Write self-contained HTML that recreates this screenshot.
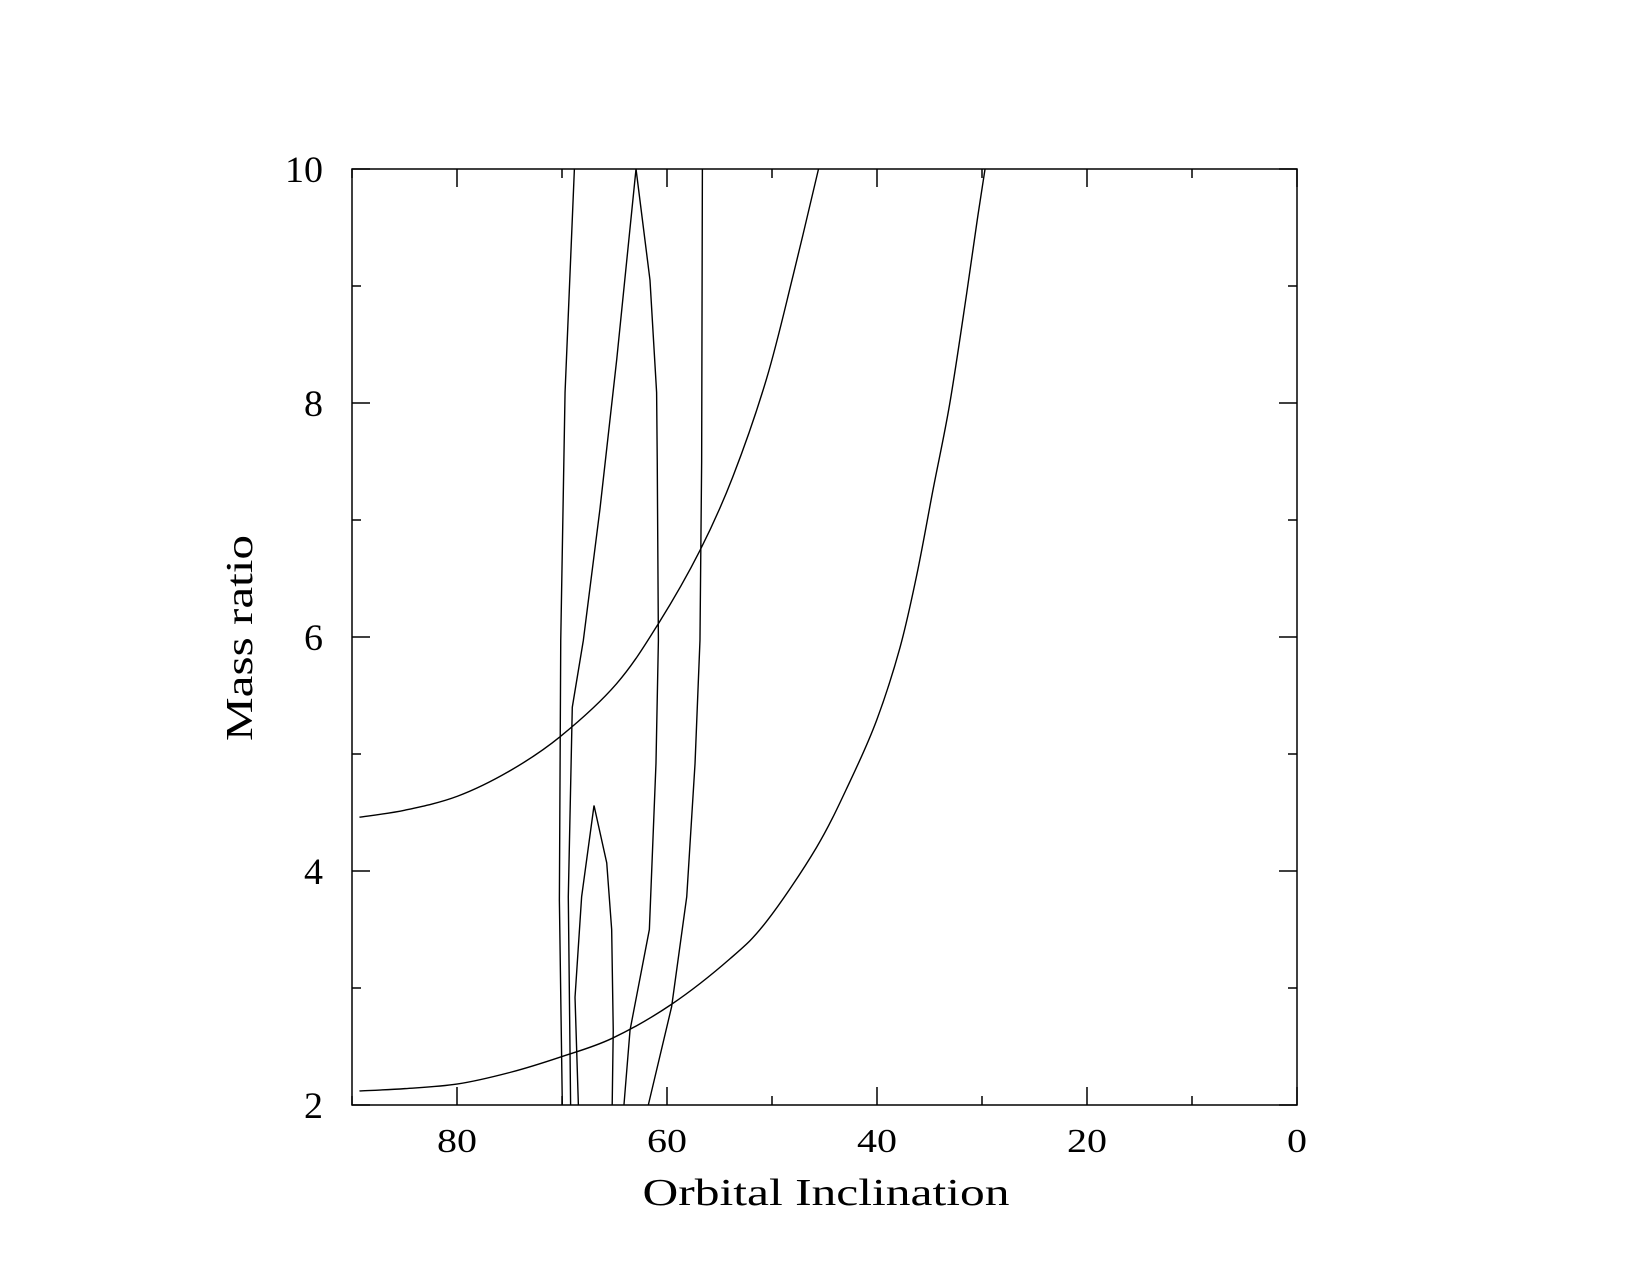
<!DOCTYPE html>
<html><head><meta charset="utf-8"><style>
html,body{margin:0;padding:0;background:#fff;}
svg{display:block;}
text{font-family:"Liberation Serif",serif;fill:#000;}
</style></head><body>
<svg id="chart" width="1650" height="1275" viewBox="0 0 1650 1275" xmlns="http://www.w3.org/2000/svg">
<rect x="0" y="0" width="1650" height="1275" fill="#fff"/>
<g id="marks"></g>
<g id="axes"></g>
</svg>
<script>
// Data (inclination in degrees, mass ratio)
const xTicks = [80, 60, 40, 20, 0];
const xTickLabels = ["80", "60", "40", "20", "0"];
const yTicks = [2, 4, 6, 8, 10];
const yTickLabels = ["2", "4", "6", "8", "10"];

const upperI = [89.29, 84.96, 79.93, 74.89, 70.15, 64.81, 60.78, 56.86, 53.73, 50.51, 47.99, 45.57];
const upperQ = [4.46, 4.52, 4.64, 4.86, 5.15, 5.6, 6.12, 6.74, 7.37, 8.21, 9.09, 10];

const lowerI = [89.29, 84.96, 79.93, 74.89, 70.15, 65.22, 59.58, 54.0, 50.51, 45.77, 42.55, 40.03, 37.81, 36.19, 34.64, 33.08, 31.47, 30.46, 29.71];
const lowerQ = [2.12, 2.14, 2.18, 2.28, 2.41, 2.57, 2.86, 3.25, 3.57, 4.20, 4.77, 5.29, 5.91, 6.54, 7.27, 7.99, 8.93, 9.56, 10];

const contourAI = [68.82, 69.71, 70.12, 70.25, 69.97];
const contourAQ = [10, 8.09, 5.97, 3.75, 2];

const contourBI = [62.95, 64.79, 66.39, 67.97, 69.02, 69.4, 69.18];
const contourBQ = [10, 8.37, 7.09, 5.97, 5.40, 3.78, 2];

const contourCI = [62.95, 61.62, 60.99, 60.93, 60.82, 61.05, 61.68, 63.52, 64.1];
const contourCQ = [10, 9.05, 8.09, 7.51, 5.97, 4.92, 3.50, 2.64, 2];

const contourDI = [56.63, 56.7, 56.86, 57.33, 58.12, 59.56, 61.78];
const contourDQ = [10, 7.5, 5.97, 4.92, 3.78, 2.84, 2];

const contourEI = [68.44, 68.76, 68.13, 66.95, 65.74, 65.27, 65.12, 65.22];
const contourEQ = [2, 2.92, 3.78, 4.56, 4.07, 3.50, 2.64, 2];

const X0 = 352, X1 = 1297, Y0 = 169, Y1 = 1105;
const xMin = 90, xMax = 0, yMin = 2, yMax = 10;
function sx(v){ return X0 + (v - xMin) / (xMax - xMin) * (X1 - X0); }
function sy(v){ return Y1 - (v - yMin) / (yMax - yMin) * (Y1 - Y0); }

const NS = "http://www.w3.org/2000/svg";
const marks = document.getElementById("marks");
const axes = document.getElementById("axes");

function drawCurve(xs, ys, name, smooth){
  const P = xs.map((v, k) => [sx(v), sy(ys[k])]);
  let d = "M" + P[0][0].toFixed(2) + "," + P[0][1].toFixed(2);
  for (let k = 0; k < P.length - 1; k++){
    if (smooth){
      const p0 = P[Math.max(0, k - 1)], p1 = P[k], p2 = P[k + 1], p3 = P[Math.min(P.length - 1, k + 2)];
      const c1x = p1[0] + (p2[0] - p0[0]) / 6, c1y = p1[1] + (p2[1] - p0[1]) / 6;
      const c2x = p2[0] - (p3[0] - p1[0]) / 6, c2y = p2[1] - (p3[1] - p1[1]) / 6;
      d += "C" + c1x.toFixed(2) + "," + c1y.toFixed(2) + " " + c2x.toFixed(2) + "," + c2y.toFixed(2) + " " + p2[0].toFixed(2) + "," + p2[1].toFixed(2);
    } else {
      d += "L" + P[k + 1][0].toFixed(2) + "," + P[k + 1][1].toFixed(2);
    }
  }
  const p = document.createElementNS(NS, "path");
  p.setAttribute("d", d);
  p.setAttribute("fill", "none");
  p.setAttribute("stroke", "#000");
  p.setAttribute("stroke-width", "1.4");
  
  
  marks.appendChild(p);
}
drawCurve(upperI, upperQ, "upper-curve", true);
drawCurve(lowerI, lowerQ, "lower-curve", true);
drawCurve(contourAI, contourAQ, "contour-a", false);
drawCurve(contourBI, contourBQ, "contour-b", false);
drawCurve(contourCI, contourCQ, "contour-c", false);
drawCurve(contourDI, contourDQ, "contour-d", false);
drawCurve(contourEI, contourEQ, "contour-e", false);

function line(x1,y1,x2,y2,name){
  const l = document.createElementNS(NS, "line");
  l.setAttribute("x1", x1); l.setAttribute("y1", y1);
  l.setAttribute("x2", x2); l.setAttribute("y2", y2);
  l.setAttribute("stroke", "#000");
  l.setAttribute("stroke-width", "1.5");
  
  
  axes.appendChild(l);
}
function text(x,y,s,size,len,anchor,name,rot){
  const t = document.createElementNS(NS, "text");
  t.setAttribute("x", x); t.setAttribute("y", y);
  t.setAttribute("font-size", size);
  t.setAttribute("text-anchor", anchor);
  if (len) { t.setAttribute("textLength", len); t.setAttribute("lengthAdjust", "spacingAndGlyphs"); }
  if (rot) t.setAttribute("transform", rot);
  t.textContent = s;
  
  
  axes.appendChild(t);
}

const fr = document.createElementNS(NS, "rect");
fr.setAttribute("x", X0); fr.setAttribute("y", Y0);
fr.setAttribute("width", X1 - X0); fr.setAttribute("height", Y1 - Y0);
fr.setAttribute("fill", "none"); fr.setAttribute("stroke", "#000"); fr.setAttribute("stroke-width", "1.5");


axes.appendChild(fr);

for (let v = 90; v >= 0; v -= 10){
  const major = (v % 20 === 0);
  const L = major ? 18 : 9;
  const x = sx(v);
  line(x, Y1, x, Y1 - L, "x-tick-bottom");
  line(x, Y0, x, Y0 + L, "x-tick-top");
}
for (let v = 2; v <= 10; v += 1){
  const major = (v % 2 === 0);
  const L = major ? 18 : 9;
  const y = sy(v);
  line(X0, y, X0 + L, y, "y-tick-left");
  line(X1, y, X1 - L, y, "y-tick-right");
}
for (let k = 0; k < xTicks.length; k++){
  const s = xTickLabels[k];
  text(sx(xTicks[k]), 1152, s, 34, s.length * 20, "middle", "x-tick-label");
}
for (let k = 0; k < yTicks.length; k++){
  const s = yTickLabels[k];
  text(323, sy(yTicks[k]) + 13, s, 37, s.length * 19, "end", "y-tick-label");
}
text(826, 1205, "Orbital Inclination", 38, 367, "middle", "x-axis-title");
text(0, 0, "Mass ratio", 38, 206, "middle", "y-axis-title", "translate(252,638) rotate(-90)");
</script>
</body></html>
